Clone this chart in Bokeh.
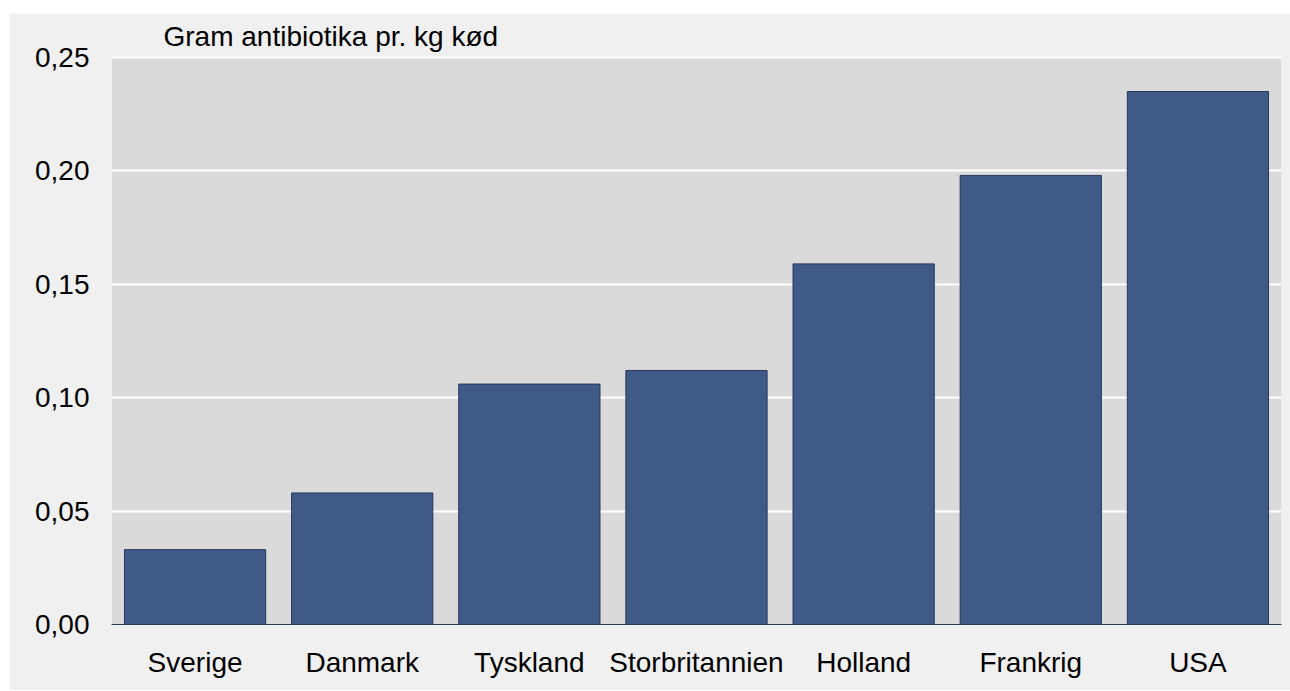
from bokeh.plotting import figure
from bokeh.models import (ColumnDataSource, Range1d, FixedTicker, CustomJSTickFormatter,
                          Spacer, Label, BoxAnnotation)
from bokeh.layouts import column, row
from bokeh.embed import file_html
from bokeh.resources import INLINE

countries = ["Sverige", "Danmark", "Tyskland", "Storbritannien", "Holland", "Frankrig", "USA"]
values = [0.033, 0.058, 0.106, 0.112, 0.159, 0.198, 0.235]
y_ticks = [0.0, 0.05, 0.10, 0.15, 0.20, 0.25]
title_text = "Gram antibiotika pr. kg kød"

FONT = "Liberation Sans"

# frame spans from the top of the panel down to the x axis; the grey plot
# area covers only 0 .. last tick, the space above holds the title
frame_h = 611.0
area_h = 567.0
y_max = y_ticks[-1] * frame_h / area_h

src = ColumnDataSource(dict(x=countries, top=values))

p = figure(x_range=countries, y_range=Range1d(0, y_max), width=1281, height=677,
           output_backend="svg", toolbar_location=None,
           min_border_left=102, min_border_right=9, min_border_top=0, min_border_bottom=66)

p.background_fill_color = "#f0f0f0"
p.border_fill_color = "#f0f0f0"
p.outline_line_color = None

area = BoxAnnotation(bottom=y_ticks[0], top=y_ticks[-1], fill_color="#dadada", fill_alpha=1.0,
                     line_color=None, level="image")
p.add_layout(area)

p.vbar(x="x", top="top", width=0.845, source=src, fill_color="#405a87",
       line_color="#26375a", line_width=1)

title = Label(x=52, x_units="screen", y=y_ticks[-1], y_units="data", y_offset=21,
              text=title_text, text_font=FONT, text_font_size="28px",
              text_color="#000000", text_baseline="alphabetic", text_align="left")
p.add_layout(title)

p.xgrid.grid_line_color = None
p.ygrid.grid_line_color = "#ffffff"
p.ygrid.grid_line_width = 2
p.ygrid.ticker = FixedTicker(ticks=y_ticks[1:])

p.yaxis.ticker = FixedTicker(ticks=y_ticks)
p.yaxis.formatter = CustomJSTickFormatter(code="return tick.toFixed(2).replace('.', ',');")
p.yaxis.axis_line_color = None
p.yaxis.major_tick_line_color = None
p.yaxis.minor_tick_line_color = None
p.yaxis.major_label_standoff = 16
p.yaxis.major_label_text_font = FONT
p.yaxis.major_label_text_font_size = "28px"
p.yaxis.major_label_text_color = "#000000"

p.xaxis.axis_line_color = "#26375a"
p.xaxis.axis_line_width = 1
p.xaxis.major_tick_line_color = None
p.xaxis.minor_tick_line_color = None
p.xaxis.major_label_standoff = 16
p.xaxis.major_label_text_font = FONT
p.xaxis.major_label_text_font_size = "28px"
p.xaxis.major_label_text_color = "#000000"

layout = row(Spacer(width=9, height=690), column(Spacer(height=13, width=1281), p, spacing=0), spacing=0)

open("out.html", "w").write(file_html(layout, INLINE))
